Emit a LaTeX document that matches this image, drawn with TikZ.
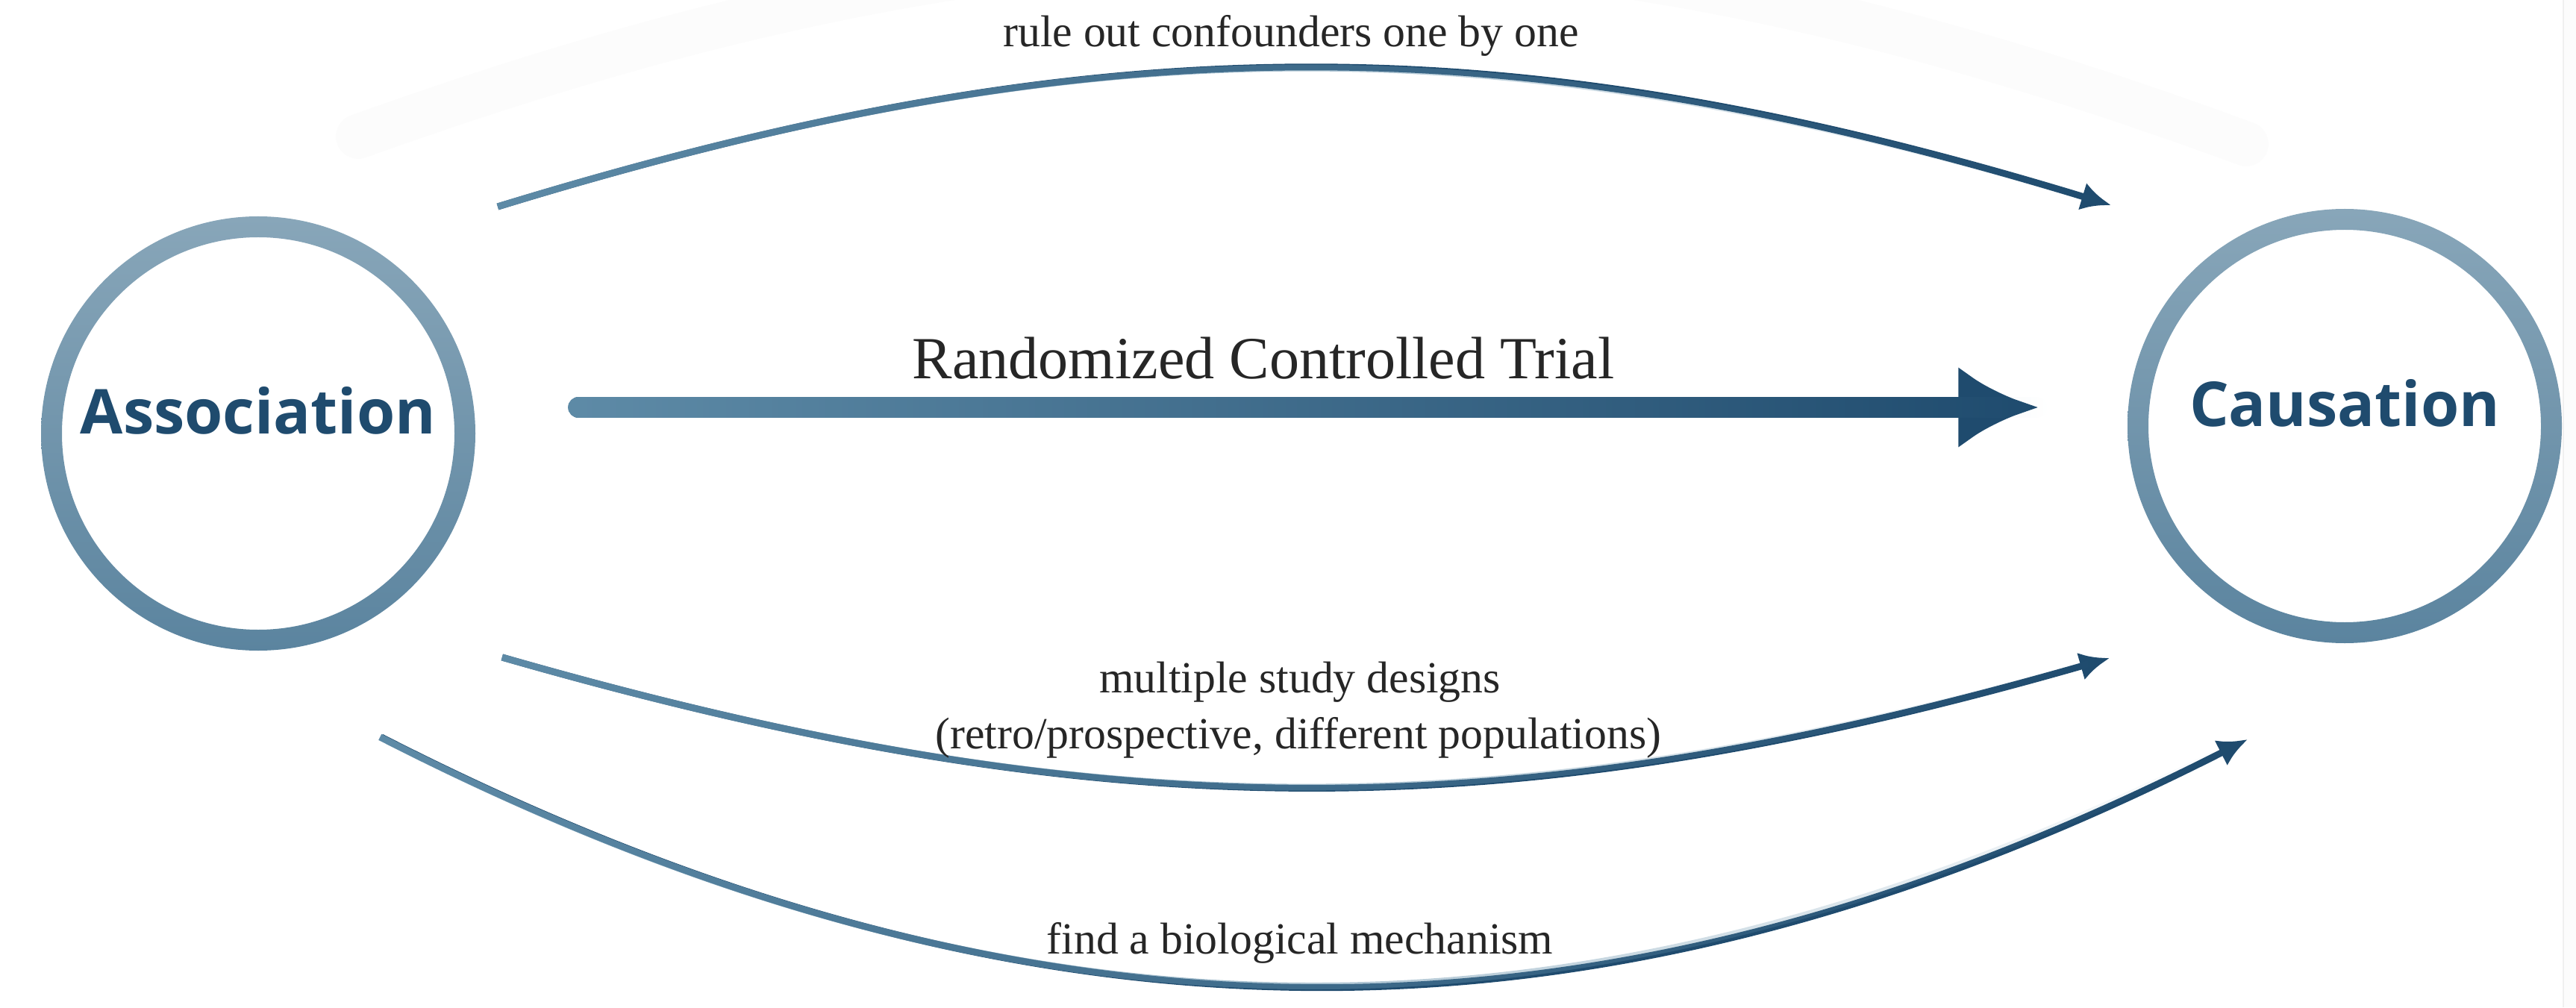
\documentclass[tikz,border=0pt]{standalone}
\usepackage{fontspec}
\setmainfont{Liberation Serif}
\newfontfamily\circfont{Open Sans}
\usetikzlibrary{arrows.meta, calc, fadings, positioning}
\definecolor{ringtop}{HTML}{88A6B9}
\definecolor{ringbot}{HTML}{5B849F}
\definecolor{inkblue}{HTML}{1F4B6E}
\definecolor{palearrow}{HTML}{5E8BA7}
\definecolor{ghostgray}{HTML}{FCFCFC}
\tikzfading[name=fadeout, left color=transparent!0, right color=transparent!100]
\tikzset{
    circnode/.style={circle, minimum size=5.82cm, inner sep=0pt, text=inkblue,
        font=\circfont\bfseries\fontsize{23.6}{28}\selectfont,
        text height=0.3cm, text depth=0.3cm},
    ringfill/.style={even odd rule, top color=ringtop, bottom color=ringbot},
    route/.style={draw=inkblue, line width=0.09cm, -{Latex[length=0.4cm, width=0.38cm]},
        postaction={draw=palearrow, path fading=fadeout, arrows=-}},
    bigroute/.style={draw=inkblue, line width=0.28cm, line cap=round,
        -{Latex[length=1.07cm, width=1.1cm]},
        postaction={draw=palearrow, path fading=fadeout, arrows=-}},
    routelabel/.style={anchor=base, inner sep=0pt, text=black!85, font=\fontsize{17}{20}\selectfont},
    biglabel/.style={anchor=base, inner sep=0pt, text=black!85, font=\fontsize{22.8}{27}\selectfont},
    ghost/.style={draw=ghostgray, line width=0.6cm, line cap=round},
}

\begin{document}
\begin{tikzpicture}
\useasboundingbox (0,0) rectangle (34.52,13.5);
% faint background traces
\draw[ghost] (4.80,11.67) to[bend left=20] (30.10,11.57);
\fill[ghostgray] (34.35,0) rectangle (34.52,13.5);
\draw[black!6, line width=0.02cm] (34.35,0) -- (34.35,13.5);
% circles
\node[circnode] (assoc) at (3.46,7.69) {Association};
\node[circnode] (caus) at (31.42,7.79) {Causation};
\shade[ringfill] (assoc.center) circle (2.91) (assoc.center) circle (2.63);
\shade[ringfill] (caus.center) circle (2.91) (caus.center) circle (2.63);
% RCT: straight arrow
\coordinate (rctS) at ([shift={(1.38,0.35)}]assoc.east);
\draw[bigroute] (rctS) -- ($(caus.west |- rctS)+(-1.19,0)$);
\node[biglabel] (lblrct) at (16.93,8.42) {Randomized Controlled Trial};
% confounders: upper arc
\draw[route] ([shift={(3.21,3.04)}]assoc.center) to[bend left=17] ([shift={(-3.13,2.96)}]caus.center);
\node[routelabel] (lblrule) at (17.30,12.87) {rule out confounders one by one};
% study designs: lower arc
\draw[route] ([shift={(3.27,-3.00)}]assoc.center) to[bend right=16] ([shift={(-3.15,-3.11)}]caus.center);
\node[routelabel] (lbldesign) at (17.42,4.22) {multiple study designs};
\node[routelabel] (lblpop) at (17.40,3.47) {(retro/prospective, different populations)};
% mechanism: lowest arc
\draw[route] ([shift={(1.65,-4.07)}]assoc.center) to[bend right=27] ([shift={(-1.30,-4.20)}]caus.center);
\node[routelabel] (lblmech) at (17.42,0.72) {find a biological mechanism};
\end{tikzpicture}
\end{document}
